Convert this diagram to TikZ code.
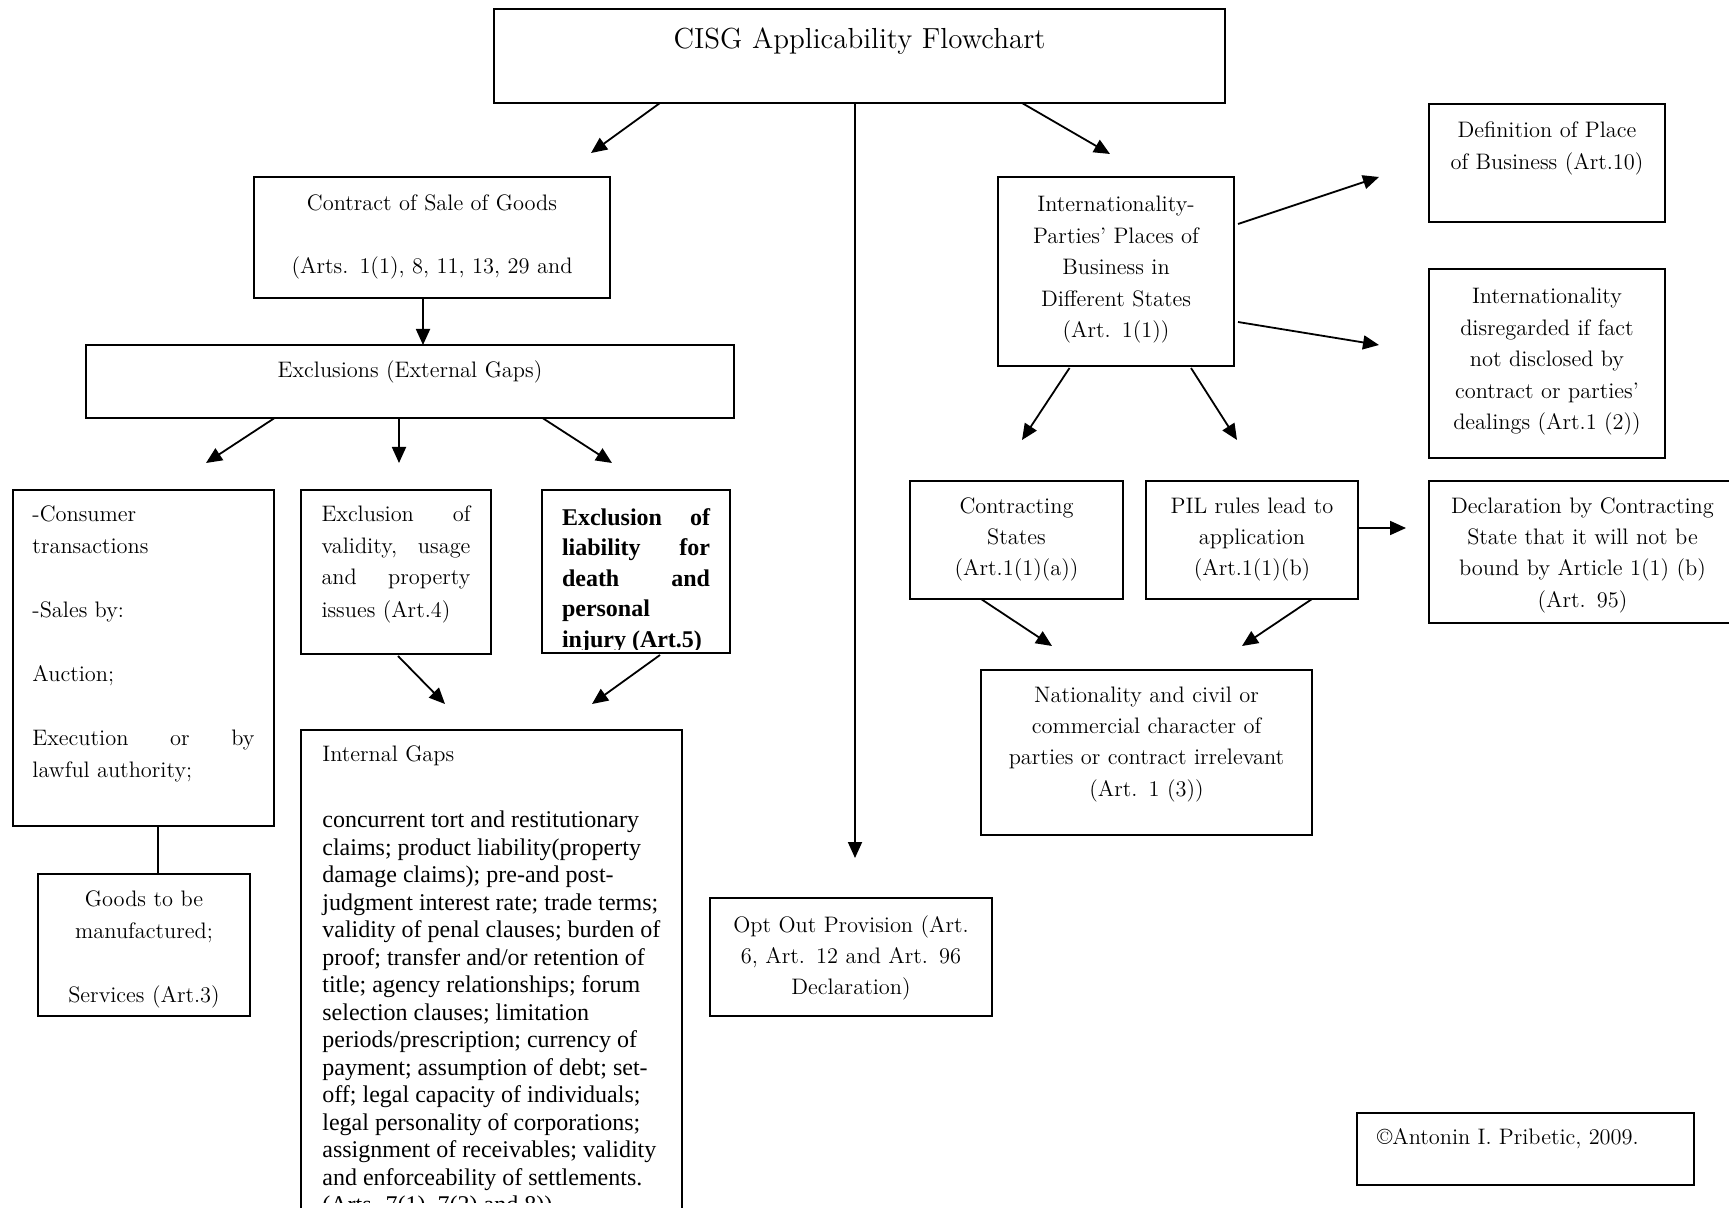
\documentclass[tikz,border=0pt]{standalone}
\usepackage{fontspec}
\newfontfamily\tnr{Liberation Serif}
\usetikzlibrary{arrows.meta}
\tikzset{
  box/.style={draw,line width=1.1pt,anchor=north west,inner sep=0pt,outer sep=0pt,
    align=center,font=\fontsize{11.2}{15.7}\selectfont},
  dims/.style n args={4}{minimum width=#1,text width=#2,text height=#3,text depth=#4},
  arr/.style={line width=0.9pt,-{Triangle[length=8pt,width=7pt]}},
}
\begin{document}
\begin{tikzpicture}[x=0.5pt,y=-0.5pt]
\useasboundingbox (0,0) rectangle (1729,1208);
\clip (0,0) rectangle (1729,1208);
\fill[white] (0,0) rectangle (1729,1208);

\node[box,dims={365.5pt}{340pt}{20pt}{27pt},font=\fontsize{14.5}{17}\selectfont] (title) at (494,9) {CISG Applicability Flowchart};
\node[box,dims={178pt}{170pt}{17pt}{43.5pt}] (contract) at (254,177) {Contract of Sale of Goods\\[15.4pt](Arts. 1(1), 8, 11, 13, 29 and};
\node[box,dims={324pt}{300pt}{16.5pt}{20pt}] (excl) at (86,345) {Exclusions (External Gaps)};
\node[box,dims={130.5pt}{111pt}{15.5pt}{152.5pt},align=justify,font=\fontsize{11.2}{16}\selectfont] (cons) at (13,490)
  {-Consumer\\ transactions\\[16pt] -Sales by:\\[16pt] Auction;\\[16pt] Execution or by\linebreak lawful authority;};
\node[box,dims={106pt}{100pt}{16pt}{55pt},font=\fontsize{11.2}{16}\selectfont] (goods) at (38,874) {Goods to be\\ manufactured;\\[16pt] Services (Art.3)};
\node[box,dims={95pt}{74.5pt}{15.5pt}{66.5pt},align=justify,font=\fontsize{11.2}{16}\selectfont] (valid) at (301,490)
  {Exclusion of\linebreak validity, usage\linebreak and property\linebreak issues (Art.4)};
\node[box,minimum width=94pt,minimum height=81.5pt] (liab) at (542,490) {};
\begin{scope}
\clip (liab.north west) rectangle ([yshift=2pt]liab.south east);
\node[anchor=base,inner sep=0pt,text width=74pt,align=justify,font=\tnr\bfseries\fontsize{12}{15.25}\selectfont] (liabtext) at ([yshift=-17.5pt]liab.north)
  {Exclusion of\linebreak liability for\linebreak death and\linebreak personal\\ injury (Art.5)};
\end{scope}
\node[box,minimum width=190.5pt,minimum height=260pt] (gaps) at (301,730) {};
\coordinate (gcut) at (0,1202);
\begin{scope}
\clip (gaps.north west) rectangle (gaps.east |- gcut);
\node[anchor=base west,inner sep=0pt,text width=170pt,align=flush left,font=\tnr\fontsize{12}{13.75}\selectfont] (gapstext) at ([xshift=10.5pt,yshift=-15.5pt]gaps.north west)
  {{\rmfamily\fontsize{11.2}{15.7}\selectfont Internal Gaps}\\[19.5pt]
   concurrent tort and restitutionary\\
   claims; product liability(property\\
   damage claims); pre-and post-\\
   judgment interest rate; trade terms;\\
   validity of penal clauses; burden of\\
   proof; transfer and/or retention of\\
   title; agency relationships; forum\\
   selection clauses; limitation\\
   periods/prescription; currency of\\
   payment; assumption of debt; set-\\
   off; legal capacity of individuals;\\
   legal personality of corporations;\\
   assignment of receivables; validity\\
   and enforceability of settlements.\\
   (Arts. 7(1), 7(2) and 8))};
\end{scope}
\node[box,dims={141pt}{135pt}{17pt}{42pt}] (opt) at (710,898) {Opt Out Provision (Art.\\ 6, Art. 12 and Art. 96\\ Declaration)};
\node[box,dims={118pt}{110pt}{17.5pt}{77pt}] (intl) at (998,177) {Internationality-\\ Parties’ Places of\\ Business in\\ Different States\\ (Art. 1(1))};
\node[box,dims={118pt}{110pt}{17pt}{42pt}] (place) at (1429,104) {Definition of Place\\ of Business (Art.10)};
\node[box,dims={118pt}{110pt}{17.5pt}{77pt}] (disreg) at (1429,269) {Internationality\\ disregarded if fact\\ not disclosed by\\ contract or parties’\\ dealings (Art.1 (2))};
\node[box,dims={106.5pt}{100pt}{16pt}{43pt}] (cstates) at (910,481) {Contracting\\ States\\ (Art.1(1)(a))};
\node[box,dims={106pt}{100pt}{16pt}{43pt}] (pil) at (1146,481) {PIL rules lead to\\ application\\ (Art.1(1)(b)};
\node[box,dims={153.5pt}{145pt}{16pt}{55pt}] (decl) at (1429,481) {Declaration by Contracting\\ State that it will not be\\ bound by Article 1(1) (b)\\ (Art. 95)};
\node[box,dims={165.5pt}{155pt}{16pt}{66.5pt}] (nat) at (981,670) {Nationality and civil or\\ commercial character of\\ parties or contract irrelevant\\ (Art. 1 (3))};
\node[box,dims={168.5pt}{148.5pt}{15.5pt}{20.5pt},align=flush left] (copy) at (1357,1113) {©Antonin I. Pribetic, 2009.};

\coordinate (t1) at (591,153);
\coordinate (t2) at (855,858);
\coordinate (t3) at (1110,154);
\coordinate (e1) at (206,463);
\coordinate (e2) at (399,463);
\coordinate (e3) at (612,463);
\coordinate (g1) at (445,704);
\coordinate (g2) at (592,704);
\coordinate (i1) at (1379,177);
\coordinate (i2) at (1379,345);
\coordinate (i3) at (1022,440);
\coordinate (i4) at (1237,440);
\coordinate (p1) at (1406,528);
\coordinate (n1) at (1052,646);
\coordinate (n2) at (1242,646);

\draw[arr] ([xshift=-99.75pt]title.south) -- (t1);
\draw[arr] ([xshift=-2.25pt]title.south) -- (t2);
\draw[arr] ([xshift=81.25pt]title.south) -- (t3);
\draw[arr] ([xshift=-4.5pt]contract.south) -- ([xshift=-4.5pt]contract.south |- excl.north);
\draw[arr] ([xshift=-67.7pt]excl.south) -- (e1);
\draw[arr] ([xshift=-5.5pt]excl.south) -- (e2);
\draw[arr] ([xshift=66.25pt]excl.south) -- (e3);
\draw[line width=0.9pt] ([xshift=7.25pt]cons.south) -- ([xshift=7.25pt]cons.south |- goods.north);
\draw[arr] ([xshift=1pt,yshift=-1pt]valid.south) -- (g1);
\draw[arr] ([xshift=12pt,yshift=-1pt]liab.south) -- (g2);
\draw[arr] ([xshift=2pt,yshift=23.75pt]intl.east) -- (i1);
\draw[arr] ([xshift=2pt,yshift=-25.25pt]intl.east) -- (i2);
\draw[arr] ([xshift=-23.25pt,yshift=-1pt]intl.south) -- (i3);
\draw[arr] ([xshift=37.5pt,yshift=-1pt]intl.south) -- (i4);
\draw[arr] ([yshift=6pt]pil.east) -- (p1);
\draw[arr] ([xshift=-17.75pt]cstates.south) -- (n1);
\draw[arr] ([xshift=30pt]pil.south) -- (n2);
\end{tikzpicture}
\end{document}
